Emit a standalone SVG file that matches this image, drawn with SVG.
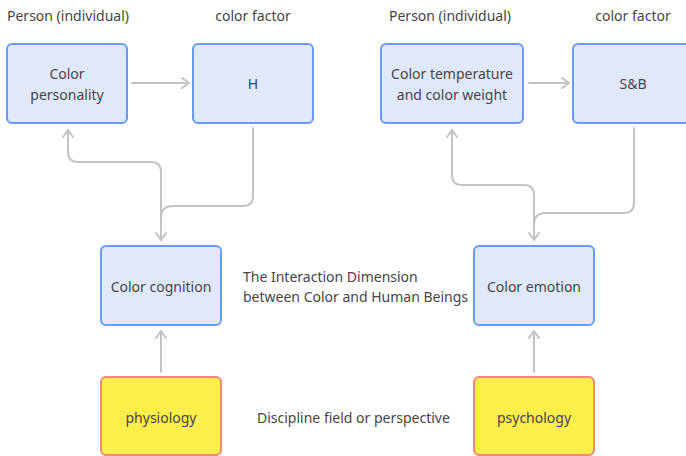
<svg xmlns="http://www.w3.org/2000/svg" width="686" height="456" viewBox="0 0 686 456">
<defs>
<style>
text{font-family:"Noto Sans","Liberation Sans",sans-serif;font-size:14px;fill:#454545;text-anchor:middle}
.lbl{text-anchor:start}
.blue{fill:#e0e9fb;stroke:#6a9bf4;stroke-width:2}
.yel{fill:#fcef4c;stroke:#f2887a;stroke-width:2}
.con{fill:none;stroke:#c3c3c3;stroke-width:2;stroke-linecap:round;stroke-linejoin:round}
</style>
<marker id="ah" viewBox="0 0 12 12" refX="10" refY="6" markerWidth="12" markerHeight="12" markerUnits="userSpaceOnUse" orient="auto">
<path d="M3,1 L10,6 L3,11" fill="none" stroke="#c3c3c3" stroke-width="2" stroke-linecap="round" stroke-linejoin="round"/>
</marker>
</defs>
<rect width="686" height="456" fill="#ffffff"/>
<g id="headers">
<text class="lbl" x="7" y="21">Person (individual)</text>
<text x="253" y="21">color factor</text>
<text class="lbl" x="389" y="21">Person (individual)</text>
<text x="633" y="21">color factor</text>
</g>
<g id="connectors">
<line class="con" x1="132" y1="83" x2="189" y2="83" marker-end="url(#ah)"/>
<line class="con" x1="529" y1="83" x2="569" y2="83" marker-end="url(#ah)"/>
<path class="con" d="M253,128 V196 Q253,206 243,206 H173 Q161,206 161,218 V240" marker-end="url(#ah)"/>
<path class="con" d="M161,218 V172 Q161,162 151,162 H78 Q68,162 68,152 V130" marker-end="url(#ah)"/>
<path class="con" d="M634,128 V203 Q634,213 624,213 H546 Q534,213 534,225 V240" marker-end="url(#ah)"/>
<path class="con" d="M534,225 V195 Q534,185 524,185 H462 Q452,185 452,175 V130" marker-end="url(#ah)"/>
<line class="con" x1="161" y1="372" x2="161" y2="331" marker-end="url(#ah)"/>
<line class="con" x1="534" y1="372" x2="534" y2="331" marker-end="url(#ah)"/>
</g>
<g id="color-personality">
<rect class="blue" x="7" y="44" width="120" height="79" rx="5"/>
<text x="67" y="79">Color</text>
<text x="67" y="100">personality</text>
</g>
<g id="h">
<rect class="blue" x="193" y="44" width="120" height="79" rx="5"/>
<text x="253" y="89">H</text>
</g>
<g id="color-temperature">
<rect class="blue" x="381" y="44" width="142" height="79" rx="5"/>
<text x="452" y="79">Color temperature</text>
<text x="452" y="100">and color weight</text>
</g>
<g id="sb">
<rect class="blue" x="573" y="44" width="120" height="79" rx="5"/>
<text x="633" y="89">S&amp;B</text>
</g>
<g id="color-cognition">
<rect class="blue" x="101" y="246" width="120" height="79" rx="5"/>
<text x="161" y="292">Color cognition</text>
</g>
<g id="color-emotion">
<rect class="blue" x="474" y="246" width="120" height="79" rx="5"/>
<text x="534" y="292">Color emotion</text>
</g>
<g id="physiology">
<rect class="yel" x="101" y="377" width="120" height="78" rx="5"/>
<text x="161" y="423">physiology</text>
</g>
<g id="psychology">
<rect class="yel" x="474" y="377" width="120" height="78" rx="5"/>
<text x="534" y="423">psychology</text>
</g>
<g id="middle-labels">
<text class="lbl" x="243" y="282">The Interaction Dimension</text>
<text class="lbl" x="243" y="302">between Color and Human Beings</text>
<text class="lbl" x="257" y="423">Discipline field or perspective</text>
</g>
</svg>
